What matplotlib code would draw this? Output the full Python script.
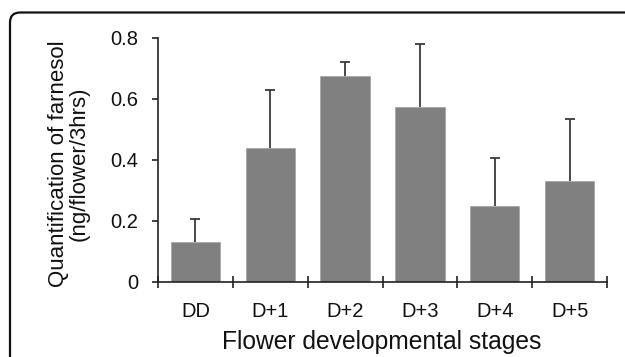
import matplotlib
matplotlib.use("Agg")
import matplotlib.pyplot as plt
from matplotlib.patches import FancyBboxPatch
import numpy as np

plt.rcParams['font.family'] = ['Liberation Sans', 'DejaVu Sans']

# data
stages = ['DD', 'D+1', 'D+2', 'D+3', 'D+4', 'D+5']
farnesol = [0.129, 0.439, 0.674, 0.574, 0.248, 0.330]
err_up = [0.077, 0.189, 0.046, 0.205, 0.158, 0.204]

BAR = '#808080'; AXC = '#222222'; ERR = '#3a3a3a'; TXT = '#111111'

W, H = 625, 357
fig = plt.figure(figsize=(W / 100, H / 100), dpi=100)
fig.patch.set_facecolor('white')

# rounded frame round the figure (cropped at right and bottom)
bg = fig.add_axes([0, 0, 1, 1], zorder=0)
bg.set_xlim(0, W); bg.set_ylim(H, 0); bg.axis('off')
bg.add_patch(FancyBboxPatch((10, 12.5), 640, 370, boxstyle="round,pad=0,rounding_size=10",
                            facecolor='none', edgecolor='#111111', lw=1.6))

x0, x1, ytop, ybot = 158, 607, 37.7, 281.7
ax = fig.add_axes([x0 / W, 1 - ybot / H, (x1 - x0) / W, (ybot - ytop) / H], zorder=1)
ax.set_facecolor('none')

x = np.arange(len(stages))
ax.bar(x, farnesol, width=0.66, color=BAR, edgecolor='#a8a8a8', linewidth=0.6, zorder=2)
eb = ax.errorbar(x, farnesol, yerr=[np.zeros(len(err_up)), err_up], fmt='none',
                 ecolor=ERR, elinewidth=1.3, capsize=3.3, capthick=1.3, zorder=1)
eb[1][0].set_visible(False)  # no cap at the bar top

ax.set_xlim(-0.5, len(stages) - 0.5)
ax.set_ylim(0, 0.8)
for s in ['top', 'right']:
    ax.spines[s].set_visible(False)
for s in ['left', 'bottom']:
    ax.spines[s].set_color(AXC)
    ax.spines[s].set_linewidth(1.2)

ax.set_yticks([0, 0.2, 0.4, 0.6, 0.8])
ax.set_yticklabels(['0', '0.2', '0.4', '0.6', '0.8'])
ax.tick_params(axis='y', direction='out', length=4.3, width=1.2, color=AXC,
               labelsize=14.5, pad=10, labelcolor=TXT)

ax.set_xticks(x)
ax.set_xticklabels(stages)
ax.set_xticks(np.arange(len(stages) + 1) - 0.5, minor=True)
ax.tick_params(axis='x', which='major', length=0, labelsize=14.5, pad=14.5, labelcolor=TXT)
ax.tick_params(axis='x', which='minor', direction='inout', length=9, width=1.2, color=AXC)

fig.text(382 / W, 1 - 349.3 / H, 'Flower developmental stages', ha='center', va='baseline',
         fontsize=17.7, color=TXT)
fig.text(69 / W, 1 - 164 / H, 'Quantification of farnesol\n(ng/flower/3hrs)', rotation=90,
         ha='center', va='center', multialignment='center', fontsize=16,
         color=TXT, linespacing=1.0)

fig.savefig('out.png', dpi=100, facecolor='white')
